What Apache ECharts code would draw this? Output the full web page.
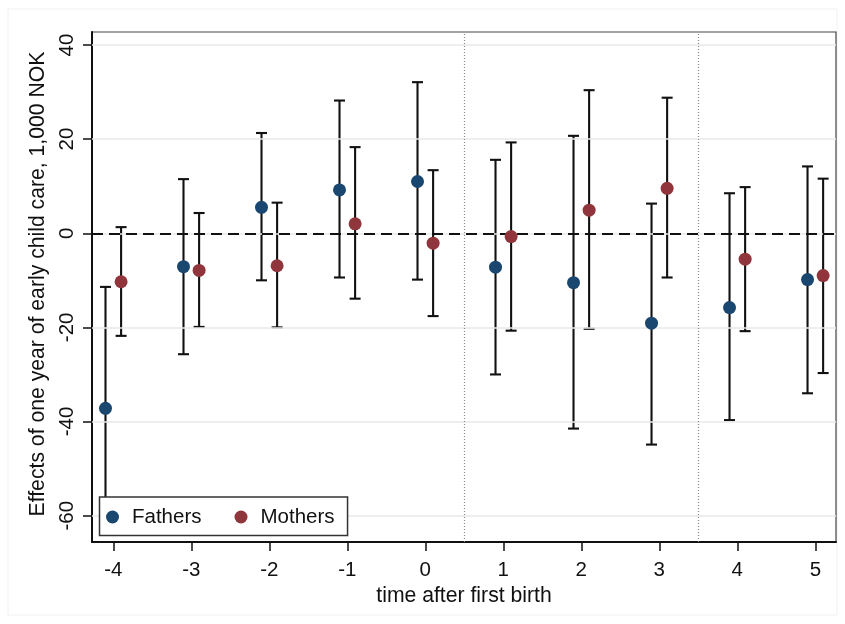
<!DOCTYPE html>
<html>
<head>
<meta charset="utf-8">
<script src="https://cdn.jsdelivr.net/npm/echarts@6/dist/echarts.min.js"></script>
<style>html,body{margin:0;padding:0;background:#fff}#c{width:845px;height:624px}</style>
</head>
<body>
<div id="c"></div>
<script>
// ---- data ----
const times = [-4, -3, -2, -1, 0, 1, 2, 3, 4, 5];
const fathersEst = [-37.2, -7.1, 5.5, 9.2, 11.0, -7.2, -10.5, -19.1, -15.8, -9.85];
const fathersLow = [-63.0, -25.7, -10.0, -9.4, -9.85, -30.0, -41.5, -44.9, -39.7, -34.0];
const fathersHigh = [-11.4, 11.5, 21.3, 28.2, 32.1, 15.6, 20.7, 6.3, 8.5, 14.2];
const mothersEst = [-10.3, -7.9, -6.9, 2.0, -2.1, -0.7, 4.9, 9.55, -5.5, -9.0];
const mothersLow = [-21.8, -19.9, -20.0, -13.9, -17.6, -20.7, -20.3, -9.4, -20.8, -29.7];
const mothersHigh = [1.3, 4.3, 6.5, 18.3, 13.4, 19.3, 30.4, 28.8, 9.8, 11.6];
const xTicks = [-4, -3, -2, -1, 0, 1, 2, 3, 4, 5];
const yTicks = [-60, -40, -20, 0, 20, 40];
const periodBreaks = [0.5, 3.5];
const zeroLine = 0;

// ---- style / layout ----
const DODGE = 0.1;
const FONT = 'Liberation Sans';
const FS = 20.5;
const FT = 21.2;
const NAVY = '#1a476f', MAROON = '#90353b';

const chart = echarts.init(document.getElementById('c'), null, {renderer: 'canvas'});

function ciRender(params, api) {
  const x = api.value(0), lo = api.value(1), hi = api.value(2);
  const a = api.coord([x, hi]), b = api.coord([x, lo]);
  const w = 5.5;
  const st = {stroke: '#111', lineWidth: 2.1};
  return {
    type: 'group',
    children: [
      {type: 'line', shape: {x1: a[0], y1: a[1], x2: b[0], y2: b[1]}, style: st},
      {type: 'line', shape: {x1: a[0] - w, y1: a[1], x2: a[0] + w, y2: a[1]}, style: st},
      {type: 'line', shape: {x1: b[0] - w, y1: b[1], x2: b[0] + w, y2: b[1]}, style: st}
    ]
  };
}

const option = {
  animation: false,
  backgroundColor: '#fff',
  graphic: [{
    type: 'rect', shape: {x: 8, y: 9, width: 829, height: 606},
    style: {fill: 'none', stroke: '#f1f1f1', lineWidth: 1}, silent: true, z: -10
  }],
  grid: {left: 92, right: 9, top: 32, bottom: 82, show: true, borderColor: '#444', borderWidth: 1.2, backgroundColor: '#fff'},
  xAxis: {
    type: 'value', min: -4.273, max: 5.265,
    name: 'time after first birth', nameLocation: 'middle', nameGap: 33,
    nameTextStyle: {fontFamily: FONT, fontSize: FT, color: '#111'},
    axisLine: {show: true, onZero: false, lineStyle: {color: '#111', width: 2}},
    axisTick: {show: true, length: 9, lineStyle: {color: '#111', width: 1.5}, customValues: xTicks},
    axisLabel: {fontFamily: FONT, fontSize: FS, color: '#111', margin: 18, customValues: xTicks},
    splitLine: {show: false}
  },
  yAxis: {
    type: 'value', min: -65.6, max: 42.76,
    name: 'Effects of one year of early child care, 1,000 NOK', nameLocation: 'middle', nameRotate: 90, nameGap: 38,
    nameTextStyle: {fontFamily: FONT, fontSize: FT, color: '#111', padding: [0, 0, 0, 6]},
    axisLine: {show: true, onZero: false, lineStyle: {color: '#111', width: 2}},
    axisTick: {show: true, length: 9, lineStyle: {color: '#111', width: 1.5}, customValues: yTicks},
    axisLabel: {fontFamily: FONT, fontSize: FS, color: '#111', margin: 14, rotate: 90, customValues: yTicks},
    splitLine: {show: false}
  },
  legend: {
    data: ['Fathers', 'Mothers'],
    left: 99.5, top: 497,
    orient: 'horizontal',
    padding: [9.5, 13, 8, 6.5],
    itemWidth: 13, itemHeight: 13, itemGap: 33,
    icon: 'circle',
    borderColor: '#333', borderWidth: 1.5, backgroundColor: '#fff',
    textStyle: {fontFamily: FONT, fontSize: FS, color: '#111', padding: [0, 0, 0, 8]},
    z: 10
  },
  series: [
    {
      type: 'scatter', name: 'grid', data: [], silent: true, z: 1,
      markLine: {
        silent: true, symbol: 'none', label: {show: false}, animation: false,
        lineStyle: {color: '#e8e8e8', width: 1.5, type: 'solid'},
        data: yTicks.map(v => ({yAxis: v}))
      }
    },
    {
      type: 'scatter', name: 'refs', data: [], silent: true, z: 1,
      markLine: {
        silent: true, symbol: 'none', label: {show: false}, animation: false,
        data: [
          {yAxis: zeroLine, lineStyle: {color: '#111', width: 2, type: [11, 6]}},
          ...periodBreaks.map(v => ({xAxis: v, lineStyle: {color: '#888', width: 1.2, type: [1, 2]}}))
        ]
      }
    },
    {
      type: 'custom', name: 'FathersCI', renderItem: ciRender, encode: {x: 0, y: [1, 2]}, z: 3,
      data: times.map((t, i) => [t - DODGE, fathersLow[i], fathersHigh[i]])
    },
    {
      type: 'custom', name: 'MothersCI', renderItem: ciRender, encode: {x: 0, y: [1, 2]}, z: 3,
      data: times.map((t, i) => [t + DODGE, mothersLow[i], mothersHigh[i]])
    },
    {
      type: 'scatter', name: 'Fathers', symbolSize: 13, z: 5,
      itemStyle: {color: NAVY, opacity: 1},
      data: times.map((t, i) => [t - DODGE, fathersEst[i]])
    },
    {
      type: 'scatter', name: 'Mothers', symbolSize: 13, z: 5,
      itemStyle: {color: MAROON, opacity: 1},
      data: times.map((t, i) => [t + DODGE, mothersEst[i]])
    }
  ]
};
chart.setOption(option);
</script>
</body>
</html>
